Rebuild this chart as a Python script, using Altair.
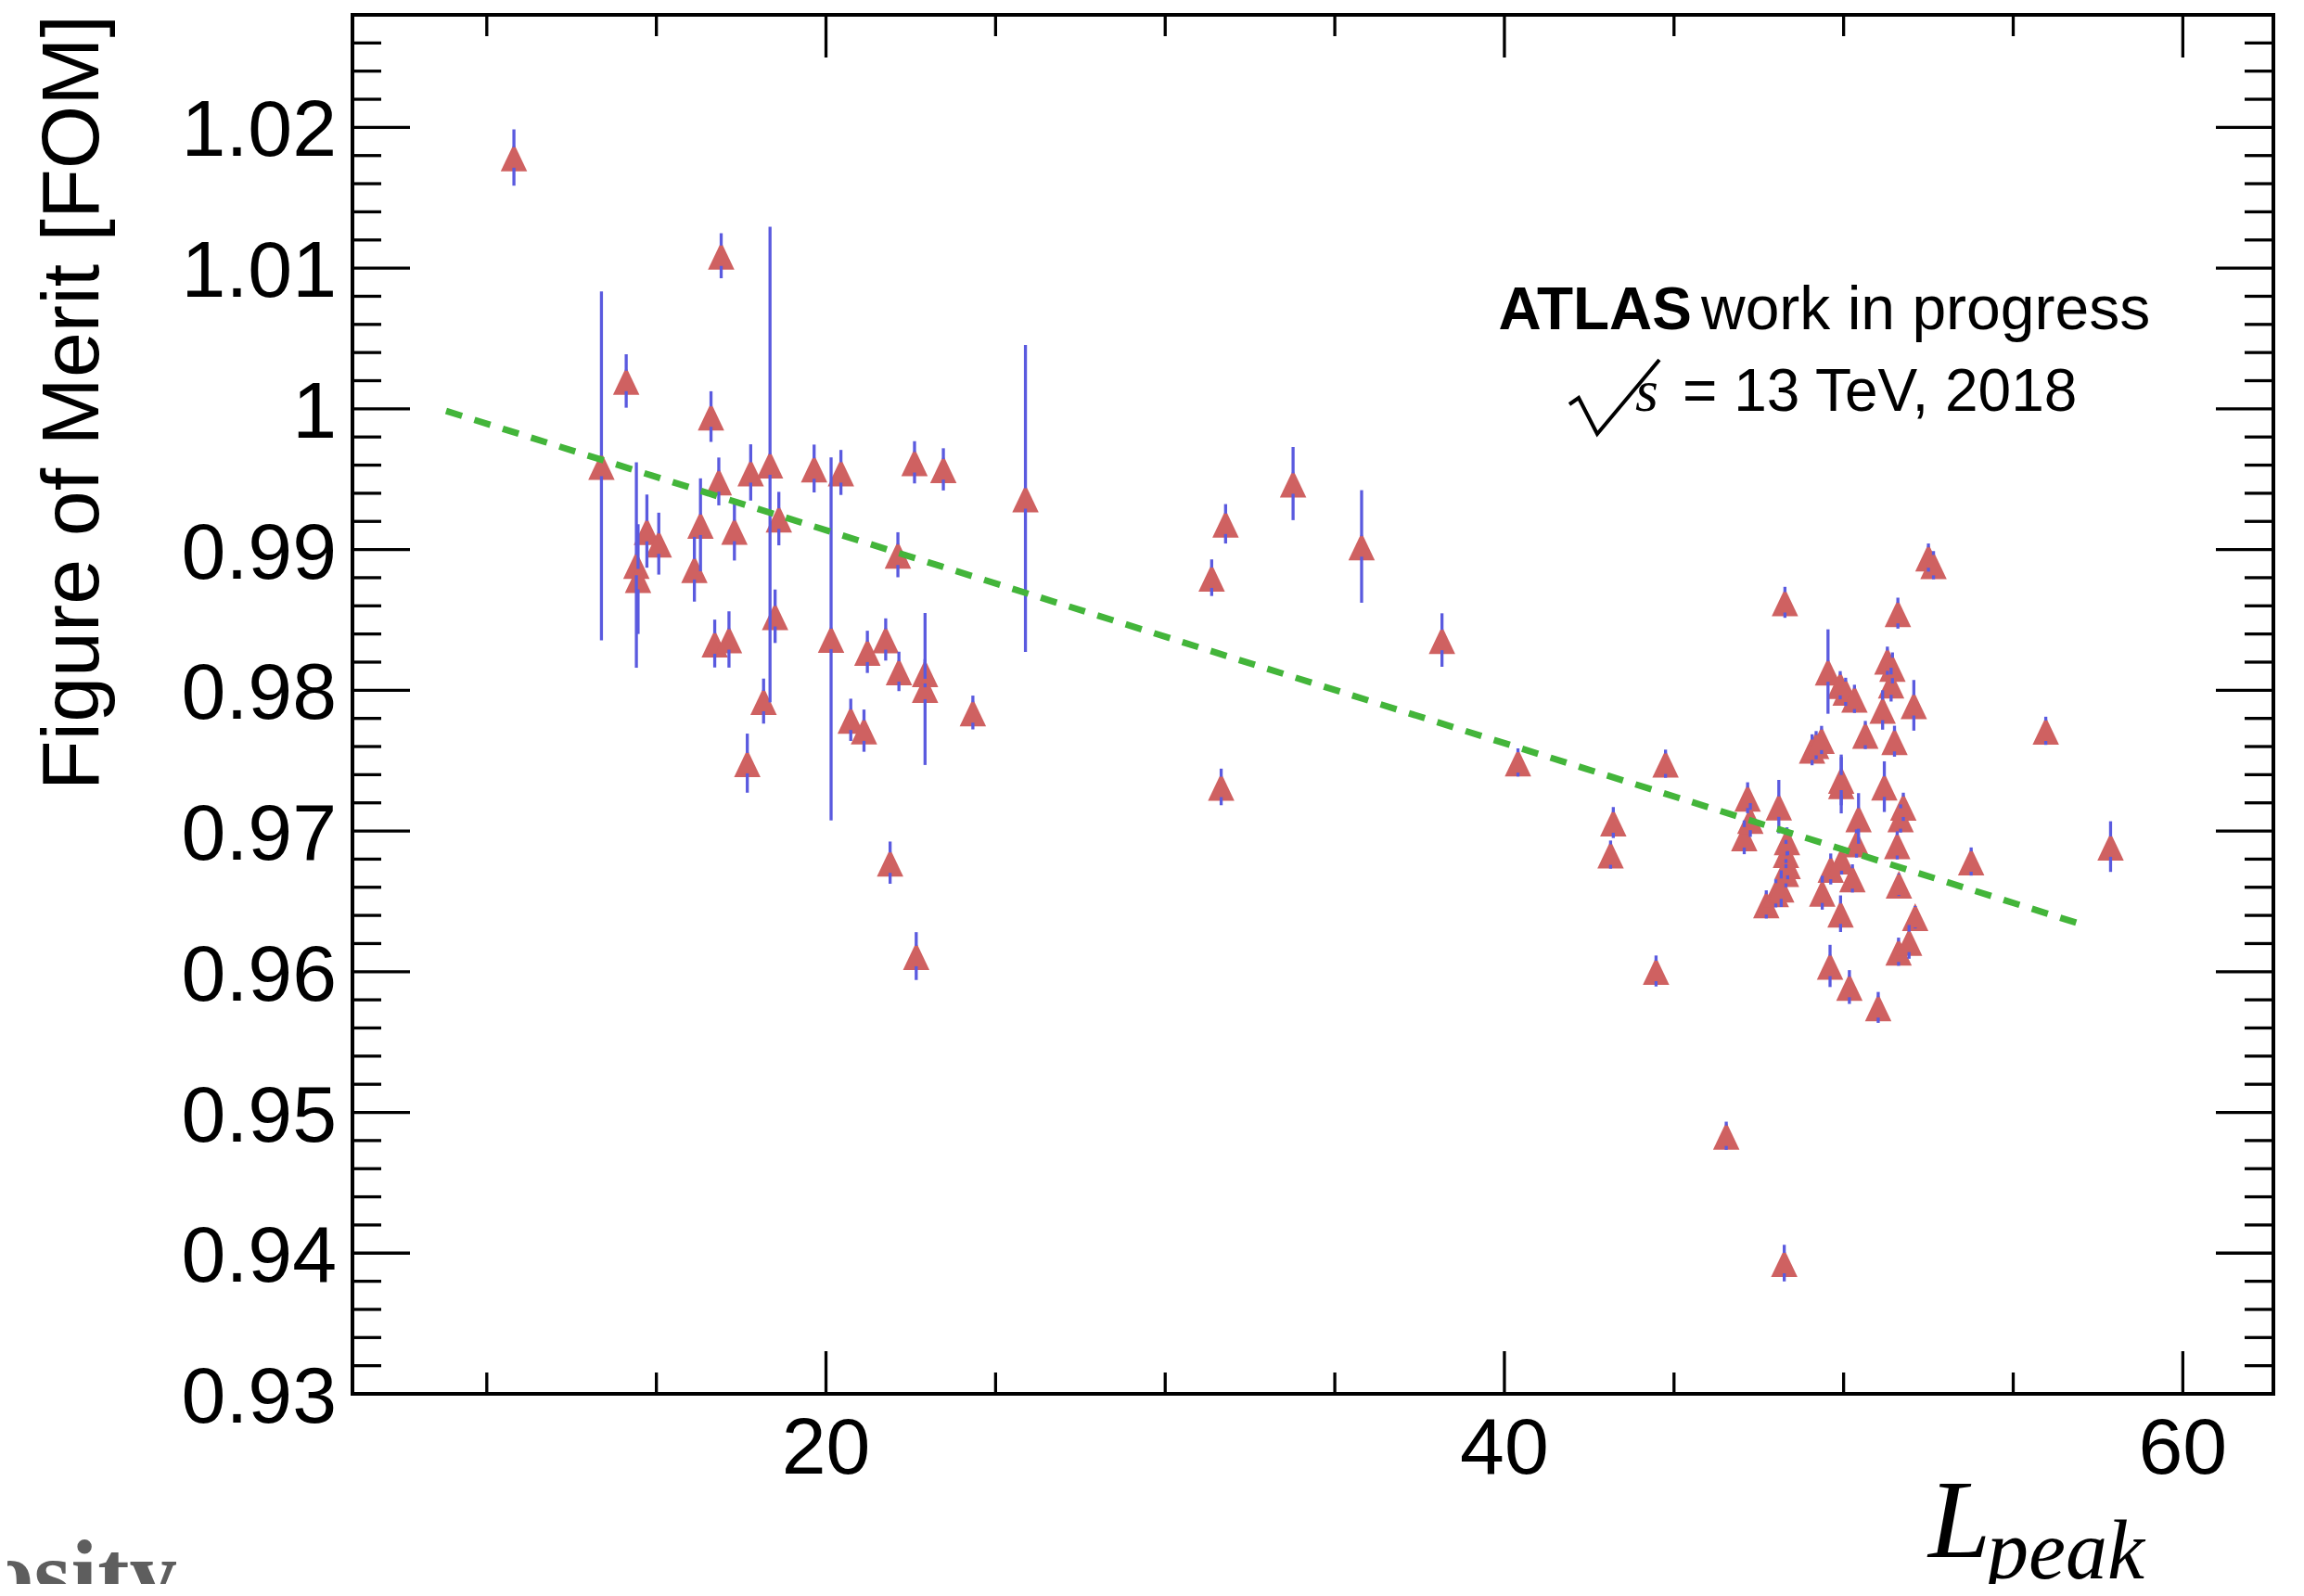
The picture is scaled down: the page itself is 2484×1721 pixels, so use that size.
import altair as alt
import pandas as pd

# ---------------- data ----------------
lpeak = [10.80, 13.38, 14.11, 14.41, 14.46, 14.72, 15.07, 16.12, 16.30, 16.61,
         16.72, 16.84, 16.91, 17.14, 17.30, 17.68, 17.78, 18.16, 18.35, 18.50,
         18.61, 19.65, 20.15, 20.44, 20.73, 21.12, 21.22, 21.76, 21.89, 22.12,
         22.15, 22.61, 22.66, 22.92, 22.92, 23.46, 24.33, 25.88,
         31.37, 31.65, 31.78, 33.77, 35.79, 38.16, 40.40,
         43.13, 43.21, 44.47, 44.75, 46.54, 47.07, 47.17, 47.25, 47.72, 48.00,
         48.09, 48.16, 48.25, 48.27, 48.30, 48.30, 48.33, 48.35, 49.07, 49.19,
         49.35, 49.37, 49.54, 49.60, 49.62, 49.90, 49.91, 49.93, 49.93, 49.94,
         50.06, 50.17, 50.26, 50.32, 50.38, 50.44, 50.64, 51.02, 51.15, 51.20,
         51.29, 51.40, 51.44, 51.50, 51.58, 51.60, 51.62, 51.63, 51.68, 51.76,
         51.93, 52.07, 52.11, 52.50, 52.65, 53.76, 55.96, 57.87]
fom = [1.01786, 0.99594, 1.00198, 0.98890, 0.98790, 0.99131, 0.99042, 0.98860, 0.99176, 0.99945,
       0.98332, 0.99484, 1.01088, 0.98361, 0.99132, 0.97482, 0.99548, 0.97923, 0.99604, 0.98526,
       0.99220, 0.99576, 0.98365, 0.99548, 0.97790, 0.97713, 0.98273, 0.98361, 0.96775, 0.98963,
       0.98134, 0.99620, 0.96111, 0.98121, 0.98009, 0.99570, 0.97842, 0.99363,
       0.98800, 0.97313, 0.99183, 0.99469, 0.99022, 0.98357, 0.97487,
       0.96832, 0.97060, 0.96005, 0.97478, 0.94834, 0.96955, 0.97236, 0.97078, 0.96478, 0.96557,
       0.97173, 0.96590, 0.93929, 0.98625, 0.96836, 0.96700, 0.96926, 0.96757, 0.97577, 0.97610,
       0.97647, 0.96561, 0.98133, 0.96041, 0.96730, 0.98036, 0.96412, 0.97363, 0.97325, 0.96790,
       0.97989, 0.95891, 0.96663, 0.97939, 0.96911, 0.97089, 0.97682, 0.95746, 0.97860, 0.97315,
       0.98210, 0.98040, 0.98159, 0.97638, 0.96898, 0.98548, 0.96142, 0.96618, 0.97089, 0.97172,
       0.96212, 0.97893, 0.96387, 0.98943, 0.98889, 0.96783, 0.97712, 0.96889]
fom_err = [0.0020, 0.0124, 0.0019, 0.0073, 0.0039, 0.0026, 0.0022, 0.0023, 0.0033, 0.0018,
           0.0017, 0.0017, 0.0016, 0.0020, 0.0021, 0.0021, 0.0020, 0.0016, 0.0169, 0.0019,
           0.0019, 0.0017, 0.0129, 0.0016, 0.0015, 0.0015, 0.0015, 0.0015, 0.0015, 0.0016,
           0.0014, 0.0015, 0.0017, 0.0010, 0.0054, 0.0015, 0.0012, 0.0109,
           0.0013, 0.0013, 0.0014, 0.0026, 0.0040, 0.0019, 0.0010,
           0.0010, 0.0011, 0.0011, 0.0010, 0.0010, 0.0012, 0.0011, 0.0012, 0.0010, 0.0010,
           0.0019, 0.0013, 0.0013, 0.0011, 0.0010, 0.0010, 0.0010, 0.0010, 0.0011, 0.0010,
           0.0010, 0.0012, 0.0030, 0.0015, 0.0011, 0.0010, 0.0013, 0.0018, 0.0020, 0.0010,
           0.0010, 0.0012, 0.0010, 0.0010, 0.0010, 0.0018, 0.0010, 0.0011, 0.0014, 0.0018,
           0.0010, 0.0012, 0.0011, 0.0011, 0.0010, 0.0011, 0.0010, 0.0008, 0.0010, 0.0010,
           0.0012, 0.0018, 0.0008, 0.0010, 0.0010, 0.0010, 0.0010, 0.0018]

fit_x = [8.80, 56.90]
fit_y = [0.99985, 0.96345]

y_major = [0.93, 0.94, 0.95, 0.96, 0.97, 0.98, 0.99, 1.00, 1.01, 1.02]
y_minor = [0.932, 0.934, 0.936, 0.938, 0.942, 0.944, 0.946, 0.948,
           0.952, 0.954, 0.956, 0.958, 0.962, 0.964, 0.966, 0.968,
           0.972, 0.974, 0.976, 0.978, 0.982, 0.984, 0.986, 0.988,
           0.992, 0.994, 0.996, 0.998, 1.002, 1.004, 1.006, 1.008,
           1.012, 1.014, 1.016, 1.018, 1.022, 1.024, 1.026]
x_major = [20, 40, 60]
x_minor = [10, 15, 25, 30, 35, 45, 50, 55]

# sqrt sign drawn as a small glyph path (pixel units, relative to plot origin)
rad_px = [1312, 1322, 1342, 1409]
rad_py = [420, 413, 452, 372]

# ---------------- layout / style ----------------
W, H = 2071, 1487
X_DOM = [6.04, 62.67]
Y_DOM = [0.93, 1.028]
RED = "#cf6161"
BLUE = "#5a5adf"
GREEN = "#43b53a"
SANS = "Liberation Sans"
SERIF = "Liberation Serif"
LBL = 86

xs = alt.Scale(domain=X_DOM, nice=False, zero=False)
ys = alt.Scale(domain=Y_DOM, nice=False, zero=False)

df = pd.DataFrame({"x": lpeak, "y": fom, "e": fom_err})
df["lo"] = df["y"] - df["e"]
df["hi"] = df["y"] + df["e"]

GAP = 11  # px gap of error bar around marker centre
gap_data = GAP / H * (Y_DOM[1] - Y_DOM[0])

X = alt.X("x:Q", scale=xs, axis=None)
Y = alt.Y("y:Q", scale=ys, axis=None)

points = alt.Chart(df).mark_point(
    shape="M0,-1L0.95,1L-0.95,1Z", size=900, filled=True, fill=RED,
    opacity=1, strokeWidth=0
).encode(x=X, y=Y)

bars_up = alt.Chart(df).transform_filter(f"datum.e > {gap_data}").mark_rule(
    color=BLUE, strokeWidth=3.3, yOffset=-GAP).encode(x=X, y=Y, y2="hi:Q")
bars_dn = alt.Chart(df).transform_filter(f"datum.e > {gap_data}").mark_rule(
    color=BLUE, strokeWidth=3.3, yOffset=GAP).encode(x=X, y=Y, y2="lo:Q")

fit = alt.Chart(pd.DataFrame({"x": fit_x, "y": fit_y})).mark_line(
    color=GREEN, strokeWidth=7, strokeDash=[18, 14]).encode(x=X, y=Y)

# ---------------- ticks (ROOT style, inward, all four sides) ----------------
ymaj = pd.DataFrame({"v": y_major})
ymin = pd.DataFrame({"v": y_minor})
xmaj = pd.DataFrame({"v": x_major})
xmin = pd.DataFrame({"v": x_minor})


def ytick(d, x0, x1):
    return alt.Chart(d).mark_rule(color="black", strokeWidth=3.3).encode(
        y=alt.Y("v:Q", scale=ys, axis=None), x=alt.value(x0), x2=alt.value(x1))


def xtick(d, y0, y1):
    return alt.Chart(d).mark_rule(color="black", strokeWidth=3.3).encode(
        x=alt.X("v:Q", scale=xs, axis=None), y=alt.value(y0), y2=alt.value(y1))


ticks = [
    ytick(ymaj, 0, 62), ytick(ymaj, W - 62, W),
    ytick(ymin, 0, 31), ytick(ymin, W - 31, W),
    xtick(xmaj, H - 46, H), xtick(xmaj, 0, 46),
    xtick(xmin, H - 23, H), xtick(xmin, 0, 23),
]

# tick labels
ylab = alt.Chart(ymaj).transform_calculate(
    lab="format(datum.v, '.2~f')"
).mark_text(align="right", baseline="alphabetic", font=SANS, fontSize=LBL,
            dy=31, color="black").encode(
    y=alt.Y("v:Q", scale=ys, axis=None), x=alt.value(-17), text="lab:N")
xlab = alt.Chart(xmaj).mark_text(
    align="center", baseline="alphabetic", font=SANS, fontSize=LBL, color="black"
).encode(x=alt.X("v:Q", scale=xs, axis=None), y=alt.value(H + 86), text="v:Q")

radical = alt.Chart(pd.DataFrame({"px": rad_px, "py": rad_py, "i": [0, 1, 2, 3]})).mark_line(
    color="black", strokeWidth=4, strokeJoin="miter"
).encode(x=alt.X("px:Q", scale=None), y=alt.Y("py:Q", scale=None), order="i:O")


# ---------------- texts ----------------
def txt(t, x, y, size, font=SANS, align="left", weight="normal", style="normal",
        angle=0, color="black", baseline="alphabetic"):
    return alt.Chart(pd.DataFrame({"t": [t]})).mark_text(
        align=align, baseline=baseline, font=font, fontSize=size,
        fontWeight=weight, fontStyle=style, angle=angle, color=color
    ).encode(text="t:N", x=alt.value(x), y=alt.value(y))


texts = [
    txt("Figure of Merit [FOM]", -274, 0, 88, align="right", angle=270),
    txt("ATLAS", 1444, 339, 64, align="right", weight="bold"),
    txt("work in progress", 1454, 339, 66),
    txt("s", 1383, 427, 64, font=SERIF, style="italic"),
    txt("= 13 TeV, 2018", 1434, 427, 64),
    txt("L", 1699, 1663, 121, font=SERIF, style="italic"),
    txt("peak", 1762, 1686, 90, font=SERIF, style="italic"),
    txt("osity", -395, 1716, 103, font=SERIF, weight="bold", color="#5e5e5e"),
]

chart = alt.layer(points, bars_up, bars_dn, fit, *ticks, ylab, xlab, radical,
                  *texts).properties(
    width=W, height=H,
    autosize=alt.AutoSizeParams(type="none"),
    padding={"left": 372, "top": 8, "right": 24, "bottom": 205},
    background="white",
).configure_view(stroke="black", strokeWidth=4)

chart.save("out.html", embed_options={"renderer": "svg", "actions": False})
